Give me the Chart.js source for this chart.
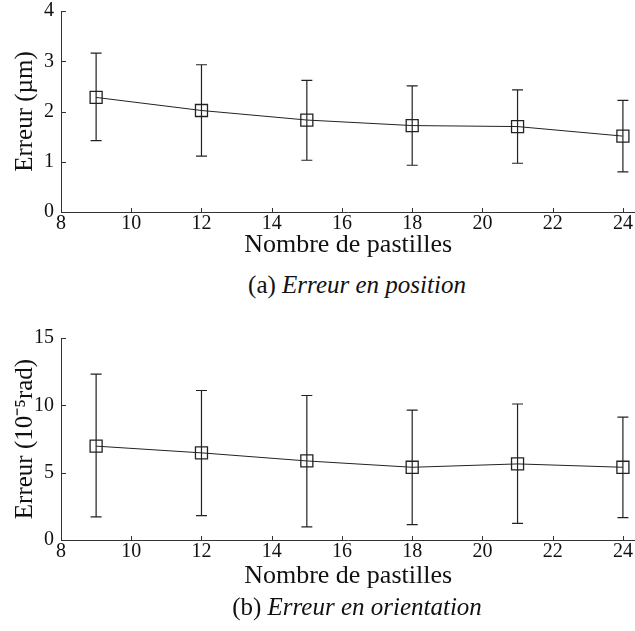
<!DOCTYPE html>
<html>
<head>
<meta charset="utf-8">
<script src="https://cdn.jsdelivr.net/npm/chart.js@4/dist/chart.umd.min.js"></script>
<style>
  body { margin: 0; background: #fff; width: 635px; height: 631px; position: relative; overflow: hidden; }
  canvas { position: absolute; left: 0; }
  #c1 { top: 0; }
  #c2 { top: 320px; }
  .caption { position: absolute; left: 357px; transform: translateX(-50%); white-space: nowrap;
             font-family: "Liberation Serif", serif; font-size: 25px; line-height: 30px; color: #111; }
  .caption i { font-style: italic; }
</style>
</head>
<body>
<canvas id="c1" width="645" height="263"></canvas>
<div class="caption" style="top:270px">(a) <i>Erreur en position</i></div>
<canvas id="c2" width="645" height="274"></canvas>
<div class="caption" style="top:592px">(b) <i>Erreur en orientation</i></div>
<script>
// nombre de pastilles testé
const nbPastilles = [9, 12, 15, 18, 21, 24];

// erreur en position (µm) : moyenne, min, max
const errPos    = [2.28, 2.02, 1.83, 1.72, 1.70, 1.51];
const errPosMin = [1.42, 1.11, 1.03, 0.93, 0.97, 0.80];
const errPosMax = [3.16, 2.93, 2.62, 2.51, 2.43, 2.22];

// erreur en orientation (1e-5 rad) : moyenne, min, max
const errOri    = [6.97, 6.47, 5.87, 5.40, 5.65, 5.40];
const errOriMin = [1.71, 1.81, 0.97, 1.14, 1.24, 1.66];
const errOriMax = [12.32, 11.10, 10.73, 9.64, 10.10, 9.12];

const xTicks = [8, 10, 12, 14, 16, 18, 20, 22, 24];
const posTicks = [0, 1, 2, 3, 4];
const oriTicks = [0, 5, 10, 15];

const FONT = '"Liberation Serif", serif';
const INK = '#222';

// barres d'erreur verticales avec petits chapeaux
const errorBars = {
  id: 'errorBars',
  afterDatasetsDraw(chart) {
    const { ctx, scales: { x, y } } = chart;
    chart.data.datasets.forEach(ds => {
      if (!ds.errMin) return;
      ctx.save();
      ctx.strokeStyle = INK;
      ctx.lineWidth = 1.2;
      ctx.beginPath();
      ds.data.forEach((p, i) => {
        const px = x.getPixelForValue(p.x);
        const top = y.getPixelForValue(ds.errMax[i]);
        const bot = y.getPixelForValue(ds.errMin[i]);
        ctx.moveTo(px, top); ctx.lineTo(px, bot);
        ctx.moveTo(px - 5.5, top); ctx.lineTo(px + 5.5, top);
        ctx.moveTo(px - 5.5, bot); ctx.lineTo(px + 5.5, bot);
      });
      ctx.stroke();
      ctx.restore();
    });
  }
};

// graduations tournées vers l'intérieur, style matlab
const innerTicks = {
  id: 'innerTicks',
  afterDraw(chart) {
    const { ctx, chartArea, scales: { x, y } } = chart;
    ctx.save();
    ctx.strokeStyle = '#333';
    ctx.lineWidth = 1;
    ctx.beginPath();
    x.ticks.forEach(t => {
      const px = Math.round(x.getPixelForValue(t.value)) + 0.5;
      ctx.moveTo(px, chartArea.bottom); ctx.lineTo(px, chartArea.bottom - 4);
    });
    y.ticks.forEach(t => {
      const py = Math.round(y.getPixelForValue(t.value)) + 0.5;
      ctx.moveTo(chartArea.left, py); ctx.lineTo(chartArea.left + 5, py);
    });
    ctx.stroke();
    ctx.restore();
  }
};

function makeChart(id, ys, lo, hi, yMax, yTickVals, yTitle, xHeight, padTop) {
  return new Chart(document.getElementById(id), {
    type: 'line',
    data: {
      datasets: [{
        data: nbPastilles.map((n, i) => ({ x: n, y: ys[i] })),
        errMin: lo,
        errMax: hi,
        borderColor: INK,
        borderWidth: 1,
        tension: 0,
        pointStyle: 'rect',
        pointRadius: 8.5,
        pointBorderWidth: 1.3,
        pointBorderColor: INK,
        pointBackgroundColor: 'rgba(0,0,0,0)'
      }]
    },
    options: {
      responsive: false,
      animation: false,
      devicePixelRatio: 1,
      layout: { padding: { top: padTop, right: 0, bottom: 0, left: 0 } },
      plugins: { legend: { display: false }, tooltip: { enabled: false } },
      scales: {
        x: {
          type: 'linear',
          min: 8,
          max: 24.35,
          afterBuildTicks: s => { s.ticks = xTicks.map(v => ({ value: v })); },
          afterFit: s => { s.height = xHeight; s.paddingRight = 0; },
          grid: { display: false, drawTicks: false },
          border: { display: true, color: '#333', width: 1 },
          ticks: { padding: 0, color: '#111', font: { family: FONT, size: 20 } },
          title: { display: true, text: 'Nombre de pastilles', color: '#111',
                   padding: { top: 0, bottom: 2 }, font: { family: FONT, size: 26 } }
        },
        y: {
          type: 'linear',
          min: 0,
          max: yMax,
          afterBuildTicks: s => { s.ticks = yTickVals.map(v => ({ value: v })); },
          // pas de marge automatique au-dessus : la zone de tracé part de padTop
          afterFit: s => { s.width = 61; s.paddingTop = 0; s.paddingBottom = 0; },
          grid: { display: false, drawTicks: false },
          border: { display: true, color: '#333', width: 1 },
          ticks: { padding: 7, color: '#111', font: { family: FONT, size: 20 } },
          title: { display: true, text: yTitle, color: '#111',
                   padding: { top: 10, bottom: 0 }, font: { family: FONT, size: 25 } }
        }
      }
    },
    plugins: [errorBars, innerTicks]
  });
}

makeChart('c1', errPos, errPosMin, errPosMax, 4, posTicks, 'Erreur (µm)', 51, 11);
makeChart('c2', errOri, errOriMin, errOriMax, 15, oriTicks, 'Erreur (10⁻⁵rad)', 54, 18);
</script>
</body>
</html>
